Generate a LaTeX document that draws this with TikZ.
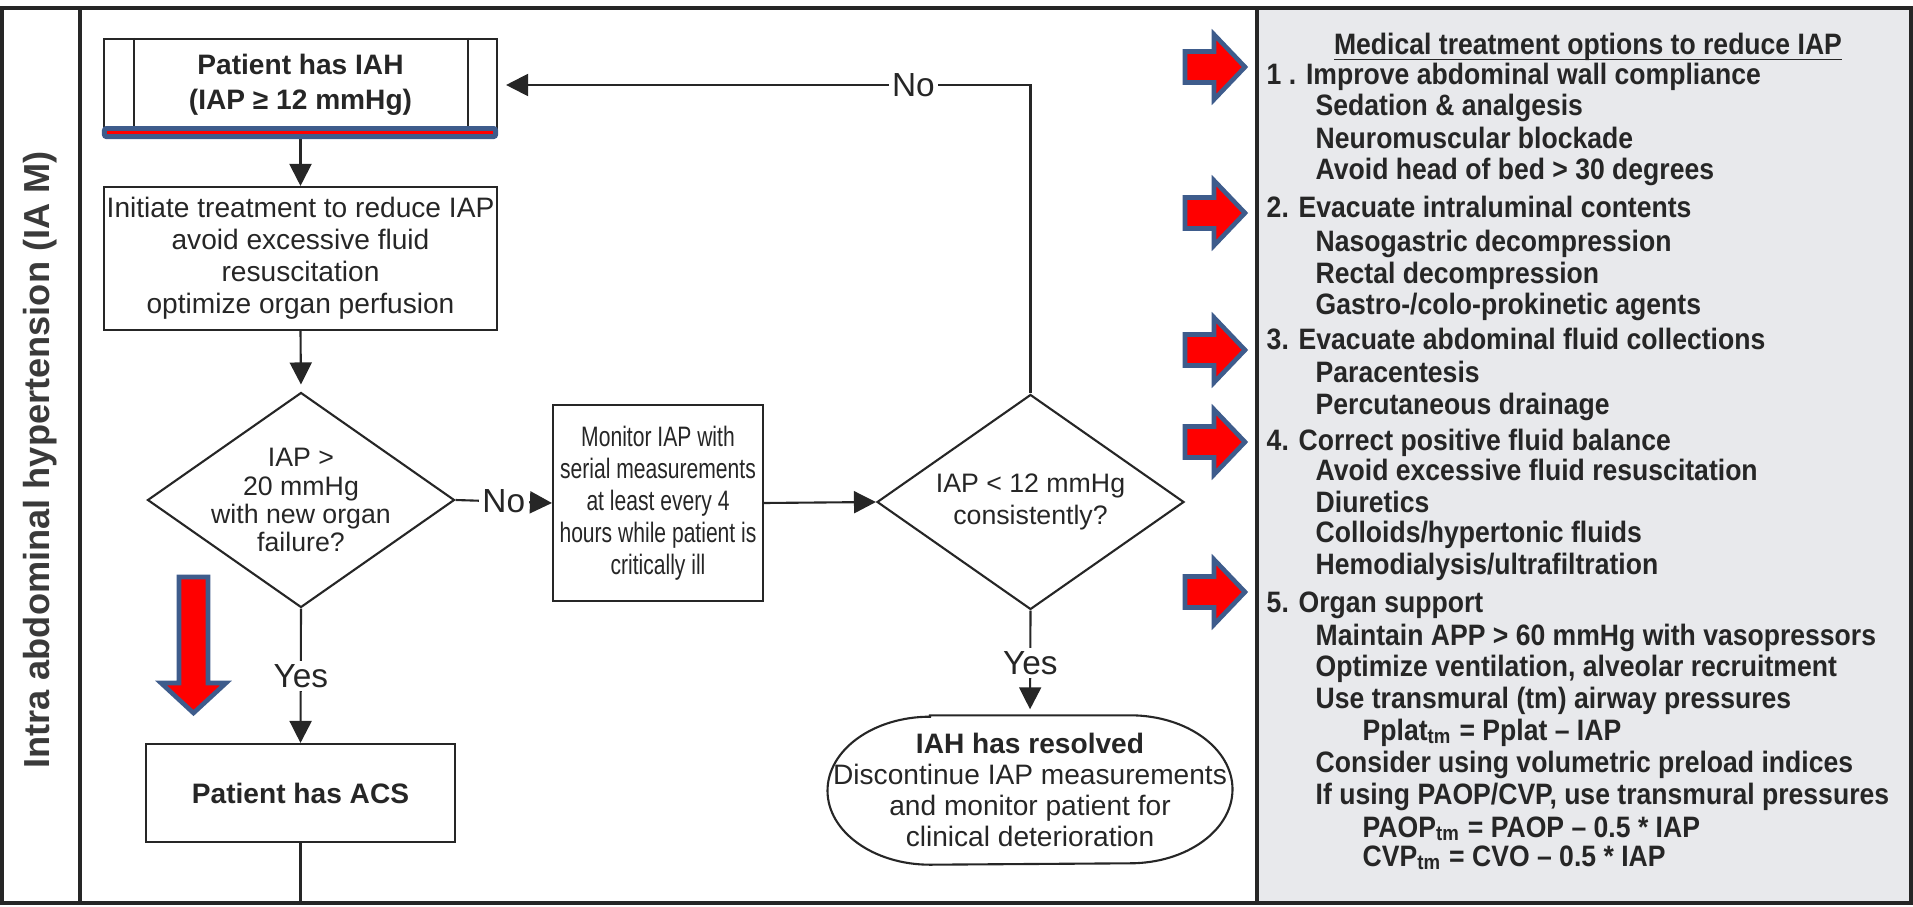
\documentclass[tikz,border=0pt]{standalone}
\usepackage{fontspec}
\setmainfont{Liberation Sans}
\newfontfamily\narrowfont{Liberation Sans}[FakeStretch=0.75]
\newfontfamily\panelfont{Liberation Sans}[FakeStretch=0.9]
\usetikzlibrary{arrows.meta,shapes.geometric,positioning}

\definecolor{panelgray}{RGB}{232,233,236}
\definecolor{arrowblue}{RGB}{62,92,140}
\definecolor{inkgray}{RGB}{38,38,38}

\tikzset{
  boxline/.style={draw=inkgray, line width=0.6pt},
  flowbox/.style={boxline, rectangle, inner sep=0pt, align=center, text=inkgray,
    font=\fontsize{8}{9.1}\selectfont},
  decision/.style={boxline, diamond, inner sep=0pt, minimum width=30.7mm, minimum height=21.5mm},
  flowtext/.style={align=center, inner sep=0pt, text=inkgray},
  flowline/.style={draw=inkgray, line width=0.6pt, -{Triangle[length=2.2mm,width=2.2mm]}},
  lbl/.style={fill=white, inner sep=1pt, text=inkgray, font=\fontsize{9.5}{10}\selectfont},
  redarrow/.style={fill=red, draw=arrowblue, line width=1.3pt, line join=miter},
  opt/.style={anchor=west, inner sep=0pt, text=inkgray, font=\panelfont\fontsize{8.4}{9}\selectfont\bfseries,
    text height=2.2mm, text depth=0.6mm}
}

\begin{document}
\begin{tikzpicture}[x=0.1mm, y=-0.1mm]
  \useasboundingbox (0,0) rectangle (1913,906);
  % frame and panels
  \fill[panelgray] (1257,8) rectangle (1911,903);
  \draw[inkgray, line width=0.9pt] (2,8) rectangle (1911,903);
  \draw[inkgray, line width=0.9pt] (80,8) -- (80,903);
  \draw[inkgray, line width=0.9pt] (1257,8) -- (1257,903);
  \node[rotate=90, text={rgb,255:red,58;green,58;blue,58}, font=\fontsize{10.3}{12}\selectfont\bfseries] (side) at (40,460) {Intra abdominal hypertension (IA M)};

  % flowchart
  \node[flowbox, minimum width=39.3mm, minimum height=9.2mm, font=\fontsize{8}{10}\selectfont\bfseries] (iah) at (300.5,85) {Patient has IAH\\(IAP ≥ 12 mmHg)};
  \draw[boxline] ([xshift=3.1mm]iah.north west) -- ([xshift=3.1mm]iah.south west);
  \draw[boxline] ([xshift=-3mm]iah.north east) -- ([xshift=-3mm]iah.south east);
  \node[flowbox, minimum width=39.3mm, minimum height=14.3mm] (init) at (300.5,258.5) {Initiate treatment to reduce IAP\\avoid excessive fluid\\resuscitation\\optimize organ perfusion};
  \node[decision] (d1) at (301,500) {};
  \node[flowtext, font=\fontsize{7.6}{8}\selectfont] (d1txt) at (d1) {IAP >\\20 mmHg\\with new organ\\failure?};
  \node[flowbox, minimum width=30.9mm, minimum height=9.8mm, font=\fontsize{8}{9}\selectfont\bfseries] (acs) at (300.5,793) {Patient has ACS};
  \node[flowbox, minimum width=21mm, minimum height=19.6mm, font=\narrowfont\fontsize{8}{9.1}\selectfont] (monitor) at (658,503) {Monitor IAP with\\serial measurements\\at least every 4\\hours while patient is\\critically ill};
  \node[decision] (d2) at (1030.5,502) {};
  \node[flowtext, font=\fontsize{7.6}{9.1}\selectfont] (d2txt) at (d2) {IAP < 12 mmHg\\consistently?};
  \node[flowtext, minimum width=40.5mm, minimum height=14.8mm, font=\fontsize{8}{8.8}\selectfont] (res) at (1030,790) {\textbf{IAH has resolved}\\Discontinue IAP measurements\\and monitor patient for\\clinical deterioration};
  \draw[boxline] ([xshift=-10mm]res.north) -- ([xshift=10mm]res.north)
    arc[start angle=90, end angle=-90, x radius=10.25mm, y radius=7.4mm]
    -- ([xshift=-10mm]res.south)
    arc[start angle=270, end angle=90, x radius=10.25mm, y radius=7.4mm] -- cycle;
  \coordinate (bottom) at (300.5,903);

  % connectors
  \draw[flowline] (iah.south) -- (init.north);
  \draw[flowline, shorten >=0.7mm] (init.south) -- (d1.north);
  \draw[flowline] (d1.east) -- node[lbl]{No} (monitor.west);
  \draw[flowline] (monitor.east) -- (d2.west);
  \draw[flowline, shorten >=0.8mm] (d2.north) |- node[lbl, pos=0.61]{No} (iah.east);
  \draw[flowline] (d1.south) -- node[lbl]{Yes} (acs.north);
  \draw[flowline, shorten >=0.6mm] (d2.south) -- node[lbl]{Yes} (res.north);
  \draw[boxline] (acs.south) -- (bottom);

  % bar under the first box
  \fill[arrowblue, rounded corners=0.4mm] ([shift={(-1,-6)}]iah.south west) rectangle ([shift={(0,7)}]iah.south east);
  \draw[red, line width=1.1pt] ([shift={(4,0.5)}]iah.south west) -- ([shift={(-5,0.5)}]iah.south east);

  % red block arrows
  \draw[redarrow] (179,577) -- (208,577) -- (208,683) -- (226,683) -- (193.5,713) -- (161,683) -- (179,683) -- cycle;
  \foreach \yc in {67,213,350,442,592}
    \draw[redarrow] (1185,\yc) ++(0,-15.5) -- ++(29,0) -- ++(0,-17) -- ++(31,32.5) -- ++(-31,32.5) -- ++(0,-17) -- ++(-29,0) -- cycle;

  % treatment options
  \node[text=inkgray, inner sep=0pt, font=\panelfont\fontsize{8.4}{9}\selectfont\bfseries] (title) at (1588,58) {\underline{\smash{Medical treatment options to reduce IAP}}};
  \foreach \y/\x/\t [count=\i] in {
      77/1266/{1 . Improve abdominal wall compliance},
      108/1315/{Sedation \& analgesis},
      141/1315/{Neuromuscular blockade},
      172/1315/{Avoid head of bed > 30 degrees},
      210/1266/{2. Evacuate intraluminal contents},
      244/1315/{Nasogastric decompression},
      276/1315/{Rectal decompression},
      307/1315/{Gastro-/colo-prokinetic agents},
      342/1266/{3. Evacuate abdominal fluid collections},
      375/1315/{Paracentesis},
      406/1315/{Percutaneous drainage},
      442/1266/{4. Correct positive fluid balance},
      472/1315/{Avoid excessive fluid resuscitation},
      504/1315/{Diuretics},
      534/1315/{Colloids/hypertonic fluids},
      566/1315/{Hemodialysis/ultrafiltration},
      604/1266/{5. Organ support},
      637/1315/{Maintain APP > 60 mmHg with vasopressors},
      668/1315/{Optimize ventilation, alveolar recruitment},
      700/1315/{Use transmural (tm) airway pressures},
      732/1362/{Pplat\textsubscript{tm} = Pplat – IAP},
      764/1315/{Consider using volumetric preload indices},
      796/1315/{If using PAOP/CVP, use transmural pressures},
      829/1362/{PAOP\textsubscript{tm} = PAOP – 0.5 * IAP},
      858/1362/{CVP\textsubscript{tm} = CVO – 0.5 * IAP}}
    \node[opt] (opt\i) at (\x,\y) {\t};
\end{tikzpicture}
\end{document}
